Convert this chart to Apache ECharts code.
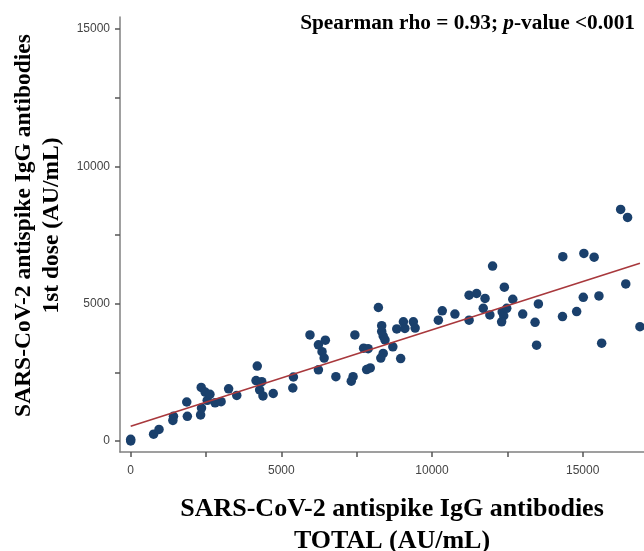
<!DOCTYPE html>
<html>
<head>
<meta charset="utf-8">
<script src="https://cdn.jsdelivr.net/npm/echarts@6/dist/echarts.min.js"></script>
<style>html,body{margin:0;padding:0;background:#fff}#c{width:644px;height:551px}</style>
</head>
<body>
<div id="c"></div>
<script>
// TOTAL (AU/mL)
const totalValues = [0, 0, 760, 940, 1400, 1420, 1880, 1860, 2320, 2350, 2340, 2470, 2540, 2630, 2800, 3000, 3250, 3520,
  4200, 4160, 4350, 4280, 4390, 4730, 5400, 5380, 5950, 6230, 6460, 6350, 6420, 6230, 6810, 7380, 7320, 7440,
  7730, 7880, 7830, 7950, 8220, 8330, 8330, 8380, 8440, 8700, 8380, 8300, 8960, 8830, 9050, 9100, 9380, 9440,
  10210, 10340, 10760, 11230, 11480, 11760, 11700, 11230, 11920, 12010, 12400, 12330, 12380, 12310, 12480,
  12680, 13010, 13530, 13420, 13470, 14340, 14330, 14800, 15020, 15040, 15380, 15540, 15630, 16260, 16490,
  16430, 16900];
// 1st dose (AU/mL)
const firstDoseValues = [0, 60, 250, 420, 750, 900, 900, 1420, 950, 1200, 1950, 1780, 1480, 1700, 1390, 1430, 1900, 1660,
  2730, 2200, 2160, 1860, 1640, 1730, 2330, 1930, 3860, 3500, 3670, 3250, 3020, 2590, 2340, 2340, 2180, 3860,
  3380, 3360, 2600, 2660, 4860, 4200, 3990, 3820, 3680, 3430, 3190, 3020, 3000, 4080, 4340, 4100, 4340, 4110,
  4400, 4740, 4620, 5310, 5370, 5190, 4830, 4400, 4590, 6370, 5600, 4700, 4560, 4340, 4830,
  5160, 4620, 4990, 4320, 3490, 6710, 4530, 4710, 5230, 6830, 6690, 5280, 3560, 8430, 8140,
  5720, 4160];
// fitted line end points
const fitX = [0, 16900];
const fitY = [540, 6470];
const yTicks = [0, 2500, 5000, 7500, 10000, 12500, 15000];
const yTickLabels = [0, 5000, 10000, 15000];
const xTicks = [0, 2500, 5000, 7500, 10000, 12500, 15000];
const xTickLabels = [0, 5000, 10000, 15000];

const points = totalValues.map((x, i) => [x, firstDoseValues[i]]);
const fitLine = fitX.map((x, i) => [x, fitY[i]]);

const chart = echarts.init(document.getElementById('c'), null, {renderer: 'canvas'});
const serif = '"Liberation Serif", "Times New Roman", serif';
const sans = '"Liberation Sans", Arial, sans-serif';
chart.setOption({
  animation: false,
  backgroundColor: '#ffffff',
  title: {
    text: '{b|Spearman rho = 0.93; }{i|p}{b|-value <0.001}',
    right: 4,
    top: 8,
    textStyle: {
      rich: {
        b: {fontFamily: serif, fontWeight: 'bold', fontSize: 21.3, color: '#000'},
        i: {fontFamily: serif, fontWeight: 'bold', fontStyle: 'italic', fontSize: 21.3, color: '#000'}
      }
    }
  },
  grid: {left: 120, right: 0, top: 17, bottom: 99, containLabel: false, outerBoundsMode: 'none'},
  xAxis: {
    type: 'value',
    min: -355,
    max: 17035,
    name: 'SARS-CoV-2 antispike IgG antibodies\nTOTAL (AU/mL)',
    nameLocation: 'middle',
    nameGap: 41,
    nameTextStyle: {fontFamily: serif, fontWeight: 'bold', fontSize: 26, lineHeight: 32, color: '#000', padding: [0, 0, 0, 20]},
    splitLine: {show: false},
    axisLine: {onZero: false, lineStyle: {color: '#808080', width: 1.5}},
    axisTick: {show: true, customValues: xTicks, length: 5, lineStyle: {color: '#555', width: 1.5}},
    axisLabel: {customValues: xTickLabels, margin: 13, fontFamily: sans, fontSize: 12, color: '#444', formatter: v => String(v)}
  },
  yAxis: {
    type: 'value',
    min: -400,
    max: 15435,
    name: 'SARS-CoV-2 antispike IgG antibodies\n1st dose (AU/mL)',
    nameLocation: 'middle',
    nameGap: 33,
    nameTextStyle: {fontFamily: serif, fontWeight: 'bold', fontSize: 23.5, lineHeight: 28, color: '#000', padding: [0, 0, 0, 18]},
    splitLine: {show: false},
    axisLine: {show: true, onZero: false, lineStyle: {color: '#808080', width: 1.5}},
    axisTick: {show: true, customValues: yTicks, length: 5, lineStyle: {color: '#555', width: 1.5}},
    axisLabel: {customValues: yTickLabels, margin: 10, fontFamily: sans, fontSize: 12, color: '#444', formatter: v => String(v)}
  },
  series: [
    {
      type: 'scatter',
      data: points,
      symbol: 'circle',
      symbolSize: 9.5,
      itemStyle: {color: '#1a406c', opacity: 1},
      z: 2
    },
    {
      type: 'line',
      data: fitLine,
      showSymbol: false,
      symbol: 'none',
      lineStyle: {color: '#a8383c', width: 1.6},
      z: 3
    }
  ]
});
</script>
</body>
</html>
